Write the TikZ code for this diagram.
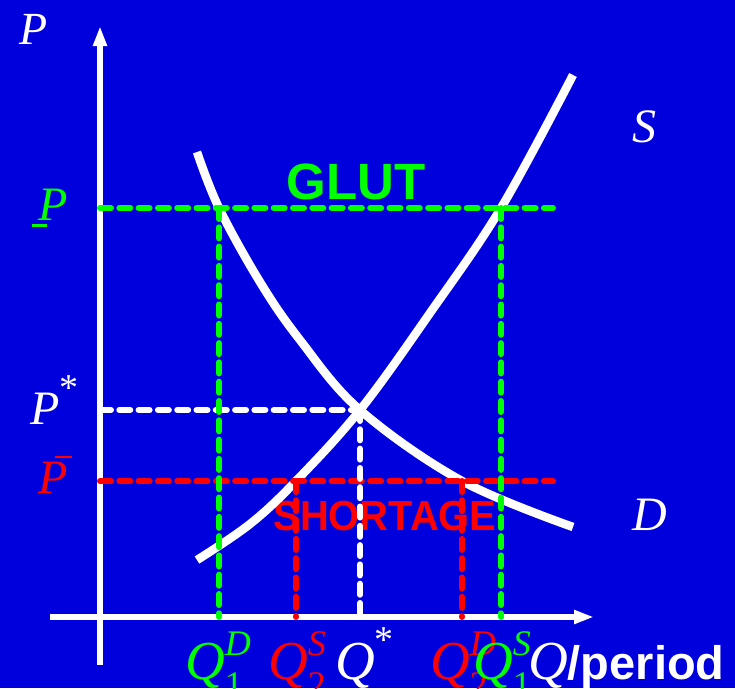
\documentclass[tikz,border=0pt]{standalone}
\usepackage{fontspec}
\setmainfont{Liberation Serif}
\setsansfont{Liberation Sans}
\usetikzlibrary{arrows.meta}
\definecolor{bg}{RGB}{0,0,221}
\definecolor{gl}{RGB}{0,255,0}
\definecolor{rd}{RGB}{255,0,0}
\newcommand{\fs}[1]{\fontsize{#1}{#1}\selectfont}
\newcommand{\QL}[2]{\itshape Q\rlap{\raisebox{0.42em}{\fs{36}\itshape #2}}\raisebox{-0.32em}{\fs{36}\upshape #1}}
\tikzset{
  axis/.style={white,line width=6pt,-{Triangle[length=20pt,width=13pt]}},
  curve/.style={white,line width=8.5pt},
  dsh/.style={line width=6pt,line cap=round,dash pattern=on 11pt off 8.3pt},
  lab/.style={anchor=base west,inner sep=0pt,text=white,font=\fs{48}\itshape},
}
\begin{document}
\begin{tikzpicture}[x=1pt,y=-1pt]
\fill[bg] (0,0) rectangle (735,688);
\useasboundingbox (0,0) rectangle (735,688);
% coordinates
\coordinate (ya0) at (100,665);
\coordinate (ya1) at (100,26);
\coordinate (xa0) at (50,617);
\coordinate (xa1) at (594,617);
% text labels
\node[lab,font=\fs{46}\itshape] (Ptop) at (19,44) {P};
\node[lab] (Slab) at (632,142) {S};
\node[lab] (Dlab) at (632,530) {D};
\node[lab,text=gl] (Plow) at (38,220) {P\llap{\rule[-0.14em]{0.33em}{0.06em}\kern0.42em}};
\node[lab,text=white] (Pstar) at (30,424) {P\raisebox{0.5em}{\fs{38}\upshape *}};
\node[lab,text=rd] (Phigh) at (38,493) {\rlap{\kern0.36em\raisebox{0.72em}{\rule{0.34em}{0.06em}}}P};
\node[text=gl,font=\fs{51}\sffamily\bfseries,inner sep=0pt] (glut) at (356,182) {GLUT};
\node[text=rd,font=\fs{42}\sffamily\bfseries,inner sep=0pt,xscale=0.95] (short) at (385,516) {SHORTAGE};
\node[lab,font=\fs{55},text=gl] (q1d) at (185,679) {\QL{1}{D}};
\node[lab,font=\fs{55},text=rd] (q2s) at (268,679) {\QL{2}{S}};
\node[lab,font=\fs{55},text=white] (qs) at (335,679) {\itshape Q\raisebox{0.48em}{\fs{38}\upshape *}};
\node[lab,font=\fs{55},text=rd] (q2d) at (430,679) {\QL{2}{D}};
\node[lab,font=\fs{55},text=gl] (q1s) at (473,679) {\QL{1}{S}};
\node[lab,font=\fs{55},text=white] (qp) at (528,679) {\itshape Q\fs{47}\upshape\sffamily\bfseries /period};
% axes
\draw[axis] (ya0) -- (ya1);
\draw[axis] (xa0) -- (xa1);
% curves
\draw[curve] plot[smooth,tension=0.6] coordinates {(197,560) (250,524) (296,481) (360,410) (430,313) (501,208) (573,75)};
\draw[curve] plot[smooth,tension=0.6] coordinates {(197,152) (219,208) (260,282) (300,340) (360,410) (462,481) (573,527)};
% price lines
\coordinate (gL) at (100,208); \coordinate (gR) at (553,208);
\coordinate (wL) at (100,410); \coordinate (wR) at (360,410);
\coordinate (rL) at (100,481); \coordinate (rR) at (553,481);
\draw[dsh,gl] (gL) -- (gR);
\draw[dsh,white] (wL) -- (wR);
\draw[dsh,rd] (rL) -- (rR);
% quantity lines
\coordinate (g1t) at (219,208); \coordinate (g1b) at (219,617);
\coordinate (g2t) at (501,208); \coordinate (g2b) at (501,617);
\coordinate (wt) at (360,410); \coordinate (wb) at (360,617);
\coordinate (r1t) at (296,481); \coordinate (r1b) at (296,617);
\coordinate (r2t) at (462,481); \coordinate (r2b) at (462,617);
\draw[dsh,gl] (g1t) -- (g1b);
\draw[dsh,gl] (g2t) -- (g2b);
\draw[dsh,white] (wt) -- (wb);
\draw[dsh,rd] (r1t) -- (r1b);
\draw[dsh,rd] (r2t) -- (r2b);
\end{tikzpicture}
\end{document}
